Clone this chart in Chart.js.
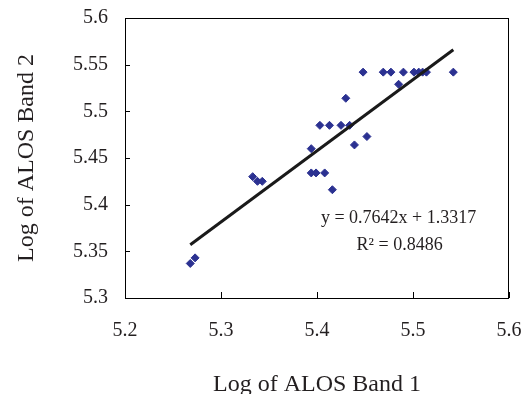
<!DOCTYPE html>
<html>
<head>
<meta charset="utf-8">
<script src="https://cdn.jsdelivr.net/npm/chart.js@4.4.1/dist/chart.umd.min.js"></script>
<style>
  html, body { margin: 0; padding: 0; background: #fff; }
</style>
</head>
<body>
<canvas id="chart" width="530" height="394"></canvas>
<script>
// 데이터
const band1 = [5.268, 5.273, 5.333, 5.338, 5.343, 5.394, 5.394, 5.399, 5.408, 5.403, 5.413, 5.416, 5.425, 5.430,
  5.434, 5.439, 5.452, 5.448, 5.469, 5.477, 5.490, 5.485, 5.501, 5.506, 5.510, 5.514, 5.542];
const band2 = [5.337, 5.343, 5.430, 5.425, 5.425, 5.460, 5.434, 5.434, 5.434, 5.485, 5.485, 5.416, 5.485, 5.514,
  5.485, 5.464, 5.473, 5.542, 5.542, 5.542, 5.542, 5.529, 5.542, 5.542, 5.542, 5.542, 5.542];
const trendX = [5.268, 5.542];
const trendY = [5.357, 5.566];
const xTicks = [5.2, 5.3, 5.4, 5.5, 5.6];
const yTicks = [5.3, 5.35, 5.4, 5.45, 5.5, 5.55, 5.6];
const equation = ["y = 0.7642x + 1.3317", "R\u00b2 = 0.8486"];

const FONT = "'Liberation Serif', 'Times New Roman', serif";
const $chart = document.getElementById("chart").getContext("2d");

// 테두리 + 안쪽 눈금 + 회귀식
const framePlugin = {
  id: "frame",
  afterDraw(chart) {
    const { ctx, chartArea: a, scales } = chart;
    ctx.save();
    ctx.strokeStyle = "#000";
    ctx.lineWidth = 1;
    ctx.strokeRect(a.left + 0.5, a.top + 0.5, a.right - a.left - 1, a.bottom - a.top);
    ctx.beginPath();
    for (const t of xTicks) {
      const px = Math.round(scales.x.getPixelForValue(t)) + 0.5;
      ctx.moveTo(px, a.bottom);
      ctx.lineTo(px, a.bottom - 6);
    }
    for (const t of yTicks) {
      const py = Math.round(scales.y.getPixelForValue(t)) + 0.5;
      ctx.moveTo(a.left, py);
      ctx.lineTo(a.left + 5, py);
    }
    ctx.stroke();

    ctx.fillStyle = "#231f20";
    ctx.font = "18px " + FONT;
    ctx.textAlign = "center";
    ctx.textBaseline = "alphabetic";
    const cx = scales.x.getPixelForValue(5.485);
    ctx.fillText(equation[0], cx, scales.y.getPixelForValue(5.380));
    ctx.fillText(equation[1], cx + 1, scales.y.getPixelForValue(5.351));
    ctx.restore();
  },
};

const tickLabel = (v) => String(Number(v.toFixed(2)));

const chartOption = {
  type: "scatter",
  data: {
    datasets: [
      {
        type: "line",
        label: "trend",
        data: trendX.map((x, i) => ({ x, y: trendY[i] })),
        borderColor: "#1a1a1a",
        borderWidth: 3,
        pointRadius: 0,
        fill: false,
      },
      {
        label: "ALOS",
        data: band1.map((x, i) => ({ x, y: band2[i] })),
        backgroundColor: "#2b3191",
        borderColor: "#2b3191",
        borderWidth: 1,
        pointStyle: "rectRot",
        pointRadius: 4,
      },
    ],
  },
  options: {
    responsive: false,
    animation: false,
    layout: { padding: { left: 15, top: 18, right: 21, bottom: 0 } },
    plugins: { legend: { display: false }, tooltip: { enabled: false } },
    scales: {
      x: {
        type: "linear",
        min: 5.2,
        max: 5.6,
        afterBuildTicks: (s) => { s.ticks = xTicks.map((v) => ({ value: v })); },
        afterFit: (s) => { s.height = 96; s.paddingLeft = 0; s.paddingRight = 0; },
        grid: { display: false, drawTicks: false },
        border: { display: false },
        ticks: { color: "#231f20", font: { family: FONT, size: 20 }, padding: 21, maxRotation: 0, callback: tickLabel },
        title: {
          display: true,
          text: "Log of ALOS Band 1",
          color: "#231f20",
          font: { family: FONT, size: 24, lineHeight: 1 },
          padding: { top: 0, bottom: -3 },
        },
      },
      y: {
        type: "linear",
        min: 5.3,
        max: 5.6,
        afterBuildTicks: (s) => { s.ticks = yTicks.map((v) => ({ value: v })); },
        afterFit: (s) => { s.width = 110; s.paddingTop = 0; s.paddingBottom = 0; },
        grid: { display: false, drawTicks: false },
        border: { display: false },
        ticks: { color: "#231f20", font: { family: FONT, size: 20 }, padding: 17, callback: tickLabel },
        title: {
          display: true,
          text: "Log of ALOS Band 2",
          color: "#231f20",
          font: { family: FONT, size: 24, lineHeight: 1 },
          padding: 0,
        },
      },
    },
  },
  plugins: [framePlugin],
};

new Chart($chart, chartOption);
</script>
</body>
</html>
